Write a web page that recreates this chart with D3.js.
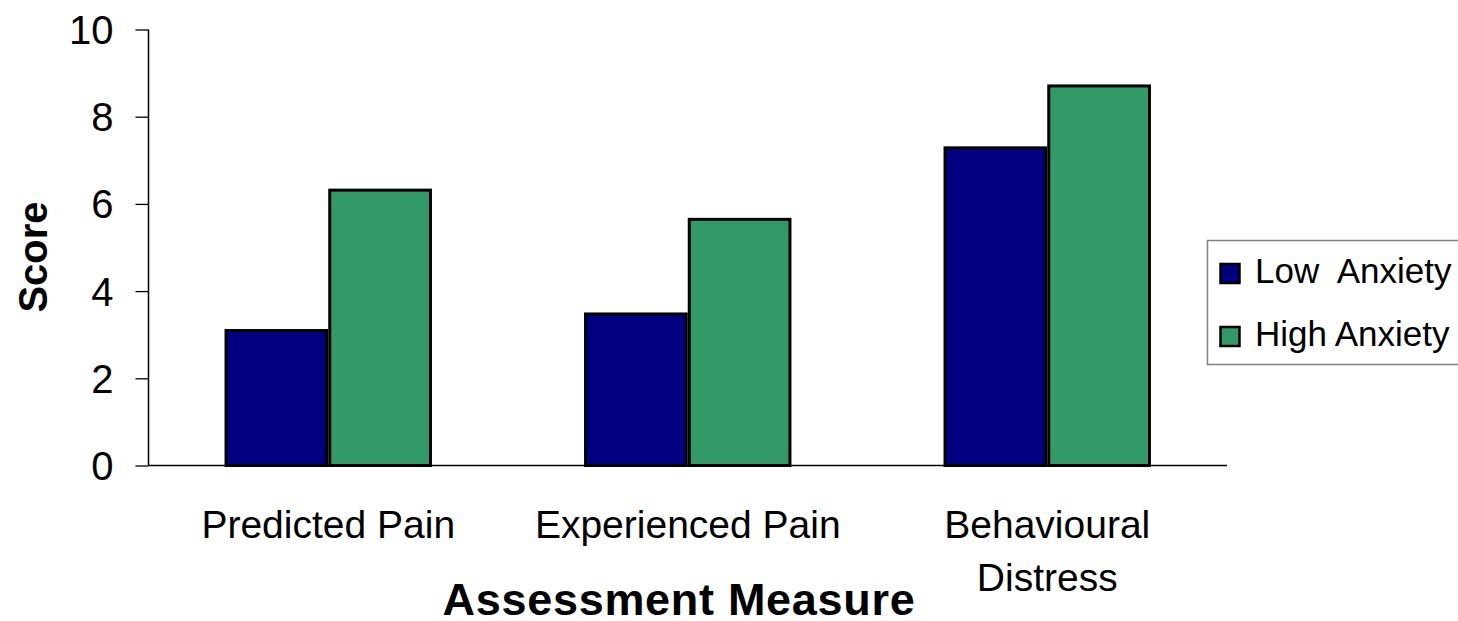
<!DOCTYPE html>
<html>
<head>
<meta charset="utf-8">
<script src="https://cdn.jsdelivr.net/npm/d3@7"></script>
<style>
  html, body { margin: 0; padding: 0; background: #fff; }
  svg { display: block; font-family: "Liberation Sans", Arial, sans-serif; }
</style>
</head>
<body>
<svg id="chart" width="1458" height="621"></svg>
<script>
// Mean scores by assessment measure and anxiety group
const categories = ["Predicted Pain", "Experienced Pain", "Behavioural Distress"];
const categoryLines = [["Predicted Pain"], ["Experienced Pain"], ["Behavioural", "Distress"]];
const seriesNames = ["Low  Anxiety", "High Anxiety"];
const lowAnxiety = [3.13, 3.51, 7.32];
const highAnxiety = [6.35, 5.68, 8.74];
const yTicks = [0, 2, 4, 6, 8, 10];
const seriesColors = ["#000080", "#339966"];

const seriesValues = [lowAnxiety, highAnxiety];
const rows = categories.map((c, i) => ({
  category: c,
  values: seriesNames.map((s, j) => ({ series: j, value: seriesValues[j][i] }))
}));

const svg = d3.select("#chart");
const plotLeft = 148.5, plotRight = 1227, plotTop = 29.5, plotBottom = 465.5;

const x0 = d3.scaleBand()
  .domain(categories)
  .range([plotLeft, plotRight])
  .paddingInner(0.423)
  .paddingOuter(0.2115);

const x1 = d3.scaleBand()
  .domain(d3.range(seriesNames.length))
  .range([0, x0.bandwidth()]);

const y = d3.scaleLinear().domain([0, 10]).range([plotBottom, plotTop]);

// Y axis: short outside ticks, black spine
const yAxis = d3.axisLeft(y).tickValues(yTicks).tickSize(13).tickPadding(22).tickFormat(d3.format("d"));
const gy = svg.append("g").attr("transform", `translate(${plotLeft},0)`).call(yAxis);
gy.select(".domain").remove();
gy.selectAll(".tick line").attr("stroke", "#000").attr("stroke-width", 1.3);
gy.selectAll(".tick text")
  .attr("font-size", 40)
  .attr("fill", "#000")
  .attr("dy", "0.35em")
  .attr("font-family", "Liberation Sans, Arial, sans-serif");
svg.append("line")
  .attr("x1", plotLeft).attr("x2", plotLeft)
  .attr("y1", y(10)).attr("y2", y(0))
  .attr("stroke", "#000").attr("stroke-width", 1.5);

// Bars
const groups = svg.append("g").selectAll("g")
  .data(rows)
  .join("g")
  .attr("transform", d => `translate(${x0(d.category)},0)`);

groups.selectAll("rect")
  .data(d => d.values)
  .join("rect")
  .attr("x", d => x1(d.series) + 1.5)
  .attr("width", x1.bandwidth() - 3)
  .attr("y", d => y(d.value) + 1.5)
  .attr("height", d => y(0) - y(d.value) - 1.5)
  .attr("fill", d => seriesColors[d.series])
  .attr("stroke", "#000")
  .attr("stroke-width", 3);

// X axis baseline
svg.append("line")
  .attr("x1", plotLeft).attr("x2", plotRight)
  .attr("y1", plotBottom).attr("y2", plotBottom)
  .attr("stroke", "#000").attr("stroke-width", 1.5);

// Category labels
const catLabels = svg.append("g").selectAll("text")
  .data(categories)
  .join("text")
  .attr("x", d => x0(d) + x0.bandwidth() / 2)
  .attr("y", 538)
  .attr("text-anchor", "middle")
  .attr("font-size", 39)
  .attr("fill", "#000");
catLabels.selectAll("tspan")
  .data((d, i) => categoryLines[i])
  .join("tspan")
  .attr("x", function () { return this.parentNode.getAttribute("x"); })
  .attr("dy", (d, i) => i === 0 ? 0 : 53)
  .text(d => d);

// Axis titles
svg.append("text")
  .attr("x", 679)
  .attr("y", 615)
  .attr("text-anchor", "middle")
  .attr("font-size", 45)
  .attr("font-weight", "bold")
  .attr("letter-spacing", 0.7)
  .text("Assessment Measure");

svg.append("text")
  .attr("transform", "translate(47,257) rotate(-90)")
  .attr("text-anchor", "middle")
  .attr("font-size", 40)
  .attr("font-weight", "bold")
  .text("Score");

// Legend
const legend = svg.append("g");
legend.append("rect")
  .attr("x", 1207.5).attr("y", 240.5)
  .attr("width", 270).attr("height", 124)
  .attr("fill", "#fff")
  .attr("stroke", "#808080").attr("stroke-width", 1.5);

const items = legend.selectAll("g.item")
  .data(seriesNames)
  .join("g")
  .attr("class", "item")
  .attr("transform", (d, i) => `translate(0,${i * 63})`);

items.append("rect")
  .attr("x", 1220.5).attr("y", 264)
  .attr("width", 19).attr("height", 19)
  .attr("fill", (d, i) => seriesColors[i])
  .attr("stroke", "#000").attr("stroke-width", 2.5);

items.append("text")
  .attr("x", 1255)
  .attr("y", 283)
  .attr("font-size", 35)
  .attr("fill", "#000")
  .style("white-space", "pre")
  .text(d => d);
</script>
</body>
</html>
